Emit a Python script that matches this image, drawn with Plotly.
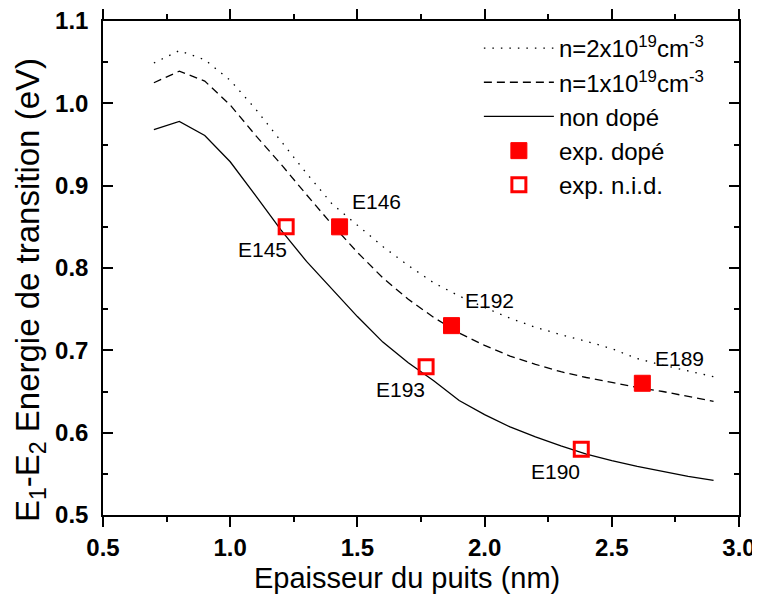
import plotly.graph_objects as go

# ---- data ----
thickness = [0.7, 0.8, 0.9, 1.0, 1.1, 1.2, 1.3, 1.4, 1.5, 1.6, 1.7, 1.8,
             1.9, 2.0, 2.1, 2.2, 2.3, 2.4, 2.5, 2.6, 2.7, 2.8, 2.9]
e_n2e19 = [1.049, 1.064, 1.053, 1.028, 0.993, 0.954, 0.915, 0.878, 0.852, 0.826,
           0.803, 0.782, 0.766, 0.752, 0.739, 0.728, 0.719, 0.711, 0.702, 0.690,
           0.682, 0.675, 0.668]
e_n1e19 = [1.025, 1.039, 1.027, 0.998, 0.961, 0.926, 0.889, 0.853, 0.819, 0.788,
           0.762, 0.740, 0.721, 0.706, 0.693, 0.683, 0.674, 0.667, 0.661, 0.655,
           0.650, 0.644, 0.638]
e_undoped = [0.968, 0.978, 0.961, 0.929, 0.888, 0.846, 0.808, 0.775, 0.741, 0.710,
             0.685, 0.663, 0.639, 0.622, 0.607, 0.595, 0.584, 0.574, 0.566, 0.559,
             0.553, 0.547, 0.542]

doped_names = ["E146", "E192", "E189"]
doped_x = [1.43, 1.87, 2.62]
doped_y = [0.85, 0.73, 0.66]

nid_names = ["E145", "E193", "E190"]
nid_x = [1.22, 1.77, 2.38]
nid_y = [0.85, 0.68, 0.58]

label_names = ["E145", "E146", "E192", "E193", "E190", "E189"]
label_x = [1.126, 1.577, 2.018, 1.670, 2.280, 2.767]
label_y = [0.822, 0.881, 0.761, 0.653, 0.553, 0.690]

x_title = "Epaisseur du puits (nm)"
y_title = "E<sub>1</sub>-E<sub>2</sub> Energie de transition (eV)"

FONT = "Arial, Liberation Sans, sans-serif"

fig = go.Figure()
fig.add_trace(go.Scatter(x=thickness, y=e_n2e19, mode="lines",
                         name="n=2x10<sup>19</sup>cm<sup>-3</sup>",
                         line=dict(color="black", width=1.3, dash="1.5px,7px"),
                         legendgroup="a"))
fig.add_trace(go.Scatter(x=thickness, y=e_n1e19, mode="lines",
                         name="n=1x10<sup>19</sup>cm<sup>-3</sup>",
                         line=dict(color="black", width=1.3, dash="8px,5px"),
                         legendgroup="b"))
fig.add_trace(go.Scatter(x=thickness, y=e_undoped, mode="lines",
                         name="non dopé",
                         line=dict(color="black", width=1.3),
                         legendgroup="c"))
fig.add_trace(go.Scatter(x=doped_x, y=doped_y, mode="markers",
                         name="exp. dopé", text=doped_names,
                         marker=dict(symbol="square", size=16, color="#ff0000",
                                     line=dict(color="#ff0000", width=1)),
                         legendgroup="d"))
fig.add_trace(go.Scatter(x=nid_x, y=nid_y, mode="markers",
                         name="exp. n.i.d.", text=nid_names,
                         marker=dict(symbol="square-open", size=14, color="#ff0000",
                                     line=dict(color="#ff0000", width=3)),
                         legendgroup="e"))

for n, x, y in zip(label_names, label_x, label_y):
    fig.add_annotation(x=x, y=y, text=n, showarrow=False,
                       font=dict(family=FONT, size=21, color="black"))

# axis titles (placed as in the reference, slightly off-centre)
fig.add_annotation(xref="paper", yref="paper", x=0.478, y=-0.1275,
                   xanchor="center", yanchor="middle", showarrow=False,
                   text=x_title, font=dict(family=FONT, size=29, color="black"))
fig.add_annotation(xref="paper", yref="paper", x=-0.115, y=0.455,
                   xanchor="center", yanchor="middle", showarrow=False,
                   textangle=-90,
                   text=y_title, font=dict(family=FONT, size=33, color="black"))

# the page body adds an 8px offset; the figure is sized to fill the rest
fig.update_layout(
    width=752, height=597,
    margin=dict(l=95, r=21, t=13, b=90, autoexpand=False),
    paper_bgcolor="white", plot_bgcolor="white",
    font=dict(family=FONT, color="black"),
    showlegend=True,
    legend=dict(x=0.591, y=0.99, xanchor="left", yanchor="top",
                bgcolor="rgba(0,0,0,0)", borderwidth=0,
                font=dict(family=FONT, size=24, color="black"),
                itemwidth=70, tracegroupgap=0, traceorder="grouped"),
)

fig.update_xaxes(
    range=[0.5, 3.0], dtick=0.5, tick0=0.5, tickformat=".1f",
    showgrid=False, zeroline=False, automargin=False,
    showline=True, linecolor="black", linewidth=1.5, mirror="ticks",
    ticks="outside", ticklen=10, tickwidth=1.5, tickcolor="black",
    minor=dict(dtick=0.25, ticks="outside", ticklen=5, tickwidth=1.5,
               tickcolor="black", showgrid=False),
    tickfont=dict(family=FONT, size=24, color="black", weight="bold"),
    ticklabeloverflow="allow",
)
fig.update_yaxes(
    range=[0.5, 1.1], dtick=0.1, tick0=0.5, tickformat=".1f",
    showgrid=False, zeroline=False, automargin=False,
    showline=True, linecolor="black", linewidth=1.5, mirror="ticks",
    ticks="inside", ticklen=10, tickwidth=1.5, tickcolor="black",
    minor=dict(dtick=0.05, ticks="inside", ticklen=5, tickwidth=1.5,
               tickcolor="black", showgrid=False),
    tickfont=dict(family=FONT, size=24, color="black", weight="bold"),
    ticklabelstandoff=8, ticklabeloverflow="allow",
)

fig.write_html("out.html")
